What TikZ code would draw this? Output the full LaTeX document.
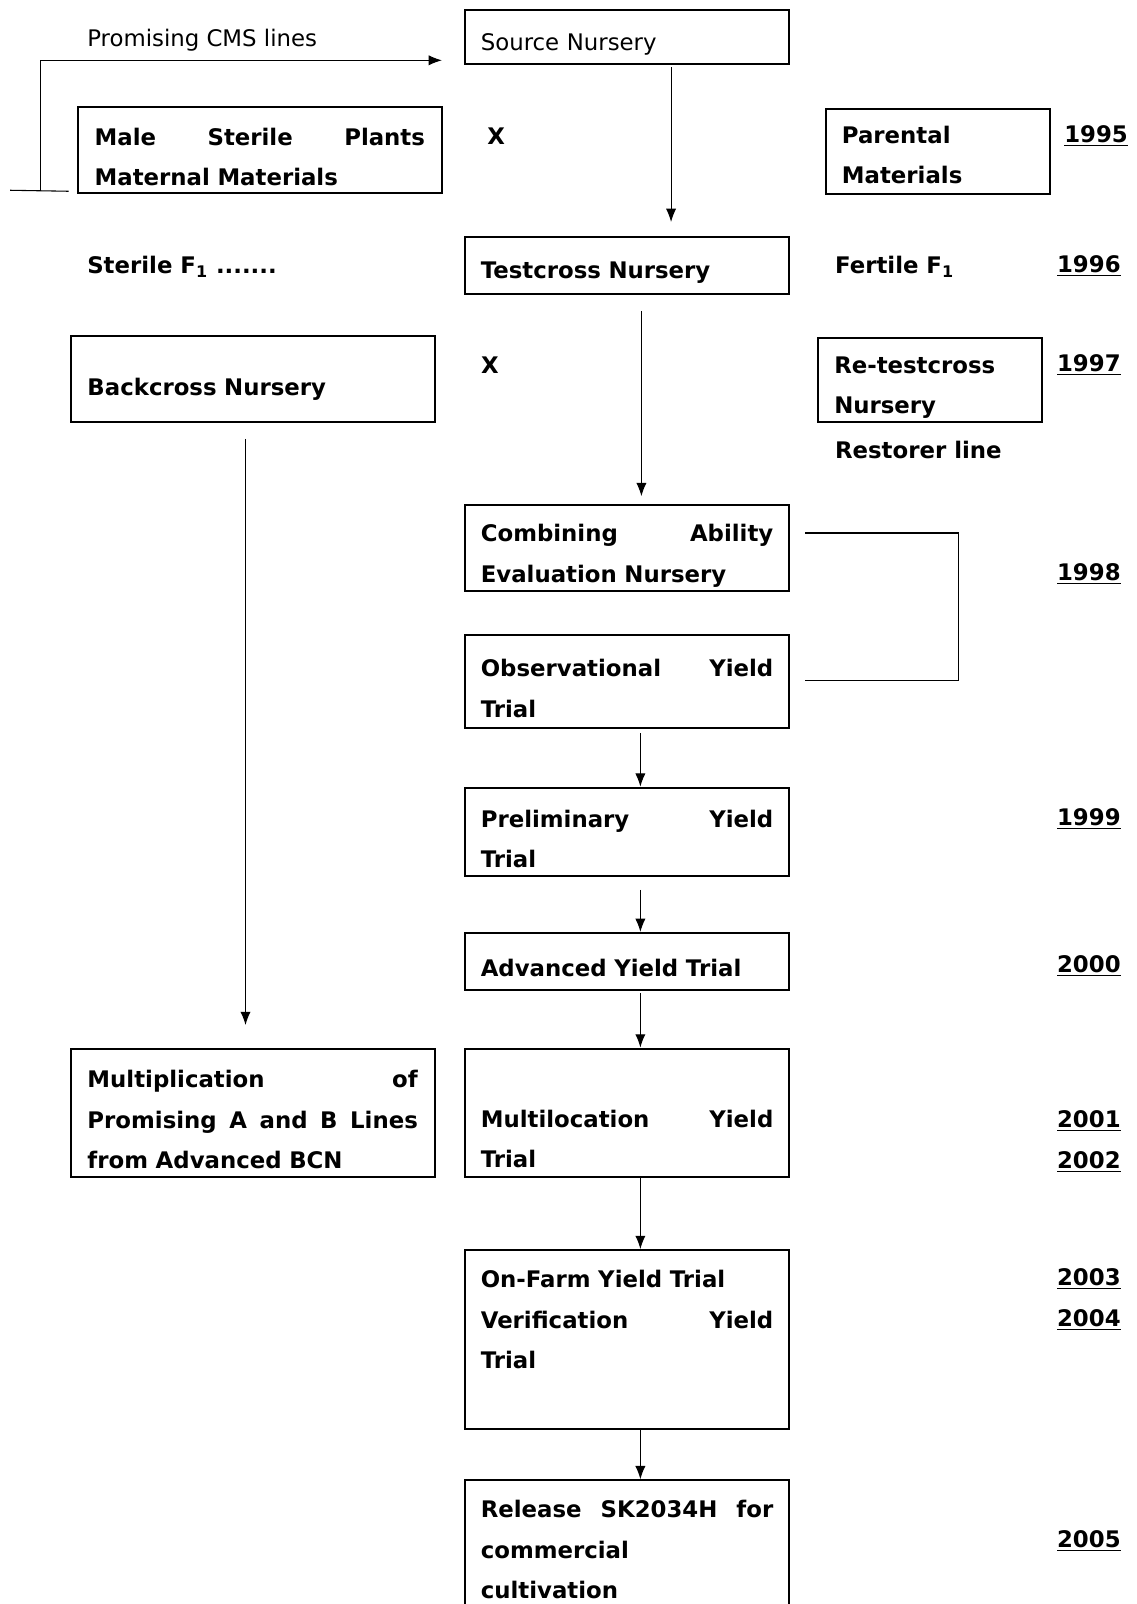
\documentclass[tikz,border=0pt]{standalone}
\usepackage{fontspec}
\setmainfont{DejaVu Sans}
\usepackage{tikz}
\usetikzlibrary{calc}
\usetikzlibrary{arrows.meta}
\usetikzlibrary{positioning}
\newcommand{\Up}[1][17pt]{\rule{0pt}{#1}}

\begin{document}
\begin{tikzpicture}[
x=0.02cm, y=-0.02cm,
MyBox/.style={draw=black, line width=1.1pt, inner xsep=0.3cm, inner ysep=2pt, font=\fontsize{12.7}{22.5}\selectfont\bfseries},
MidBox/.style={MyBox, text width=5.72cm},
LeftBox/.style={MyBox, text width=6.46cm, inner xsep=0.33cm},
RightBox/.style={MyBox, text width=3.74cm, inner xsep=0.32cm},
MyText/.style={font=\fontsize{12.7}{22.5}\selectfont\bfseries, inner sep=0pt},
MyPlain/.style={font=\fontsize{12.7}{22.5}\selectfont},
MyYear/.style={MyText, anchor=west},
MyArrow/.style={-{Latex[length=2.6mm, width=2mm]}, line width=0.6pt},
MyLine/.style={line width=0.6pt}
]

\useasboundingbox (0,0) rectangle (1111,1568);
\clip (0,0) rectangle (1111,1568);

% columns of the vertical arrows
\pgfmathparse{656}		\let\Xa\pgfmathresult
\pgfmathparse{627}		\let\Xb\pgfmathresult
\pgfmathparse{626}		\let\Xc\pgfmathresult
\pgfmathparse{240}		\let\Xl\pgfmathresult
\coordinate (colA) at (\Xa,0);
\coordinate (colB) at (\Xb,0);
\coordinate (colC) at (\Xc,0);
\coordinate (colL) at (\Xl,0);

% 1995
\node[MidBox, MyPlain, minimum height=1.06cm] (src) at (613,36.5) {\Up Source Nursery};
\node[MyPlain, anchor=west, inner sep=0pt] (cms) at (85,39) {Promising CMS lines};
\node[LeftBox, minimum height=1.68cm] (male) at (254,147) {\Up Male\hfill Sterile\hfill Plants\\Maternal Materials};
\node[MyText] (xa) at (485,133) {X};
\node[RightBox, minimum height=1.66cm] (par) at (916.5,148.5) {\Up[13pt]Parental\\Materials};
\node[MyYear] (y95) at (1040,133) {\underline{1995}};

% 1996
\node[MyText, anchor=west] (sterile) at (85,261) {Sterile F\textsubscript{1} .......};
\node[MidBox, minimum height=1.1cm] (tc) at (613,259.5) {\Up Testcross Nursery};
\node[MyText, anchor=west] (fertile) at (816,261) {Fertile F\textsubscript{1}};
\node[MyYear] (y96) at (1033,260) {\underline{1996}};

% 1997
\node[LeftBox, minimum height=1.7cm] (back) at (247,370.5) {\Up[21pt]Backcross Nursery};
\node[MyText] (xb) at (479,357) {X};
\node[RightBox, minimum height=1.66cm] (retc) at (909,371.5) {\Up[18pt]Re-testcross\\Nursery};
\node[MyYear] (y97) at (1033,357) {\underline{1997}};
\node[MyText, anchor=west] (rest) at (816,440) {Restorer line};

% 1998 - 2000
\node[MidBox, minimum height=1.68cm] (comb) at (613,536) {\Up[18pt]Combining\hfill Ability\\Evaluation Nursery};
\node[MyYear] (y98) at (1033,561) {\underline{1998}};
\node[MidBox, minimum height=1.82cm] (obs) at (613,666.5) {\Up Observational\hfill Yield\\Trial};
\node[MidBox, minimum height=1.72cm] (prel) at (613,813) {\Up[18pt]Preliminary\hfill Yield\\Trial};
\node[MyYear] (y99) at (1033,801) {\underline{1999}};
\node[MidBox, minimum height=1.12cm] (adv) at (613,940) {\Up Advanced Yield Trial};
\node[MyYear] (y00) at (1033,944) {\underline{2000}};

% 2001 - 2005
\node[LeftBox, minimum height=2.52cm] (multi) at (247,1088) {\Up Multiplication\hfill of\\Promising\hfill A\hfill and\hfill B\hfill Lines\\from Advanced BCN};
\node[MidBox, minimum height=2.52cm] (mult) at (613,1088) {\Up[16pt]\\Multilocation\hfill Yield\\Trial};
\node[MyYear] (y01) at (1033,1096) {\underline{2001}};
\node[MyYear] (y02) at (1033,1136) {\underline{2002}};
\node[MidBox, minimum height=3.5cm] (farm) at (613,1309.5) {On-Farm Yield Trial\\Verification\hfill Yield\\Trial\\\mbox{}};
\node[MyYear] (y03) at (1033,1250) {\underline{2003}};
\node[MyYear] (y04) at (1033,1290) {\underline{2004}};
\node[MidBox, minimum height=2.72cm] (rel) at (613,1515) {Release\hfill SK2034H\hfill for\\commercial\\cultivation};
\node[MyYear] (y05) at (1033,1506) {\underline{2005}};

% CMS lines back to the source nursery
\coordinate (cmsL) at (10,186);
\coordinate (cmsC) at (40,186);
\draw[MyLine] (cmsL) -- ($(male.south west)+(-8,-3)$);
\draw[MyArrow] (cmsC) |- ($(src.south west)+(-22,-5)$);

\draw[MyArrow, shorten <=0.04cm, shorten >=0.28cm] (src.south -| colA) -- (tc.north -| colA);
\draw[MyArrow, shorten <=0.32cm, shorten >=0.16cm] (tc.south -| colB) -- (comb.north -| colB);
\draw[MyArrow, shorten <=0.3cm, shorten >=0.44cm] (back.south -| colL) -- (multi.north -| colL);

\draw[MyLine] ($(comb.east)+(15,-15)$) -- ($(comb.east)+(165,-15)$) |- ($(obs.east)+(15,-1.5)$);

\draw[MyArrow, shorten <=0.08cm] (obs.south -| colC) -- (prel.north -| colC);
\draw[MyArrow, shorten <=0.26cm] (prel.south -| colC) -- (adv.north -| colC);
\draw[MyArrow, shorten <=0.04cm] (adv.south -| colC) -- (mult.north -| colC);
\draw[MyArrow] (mult.south -| colC) -- (farm.north -| colC);
\draw[MyArrow] (farm.south -| colC) -- (rel.north -| colC);

\end{tikzpicture}
\end{document}
